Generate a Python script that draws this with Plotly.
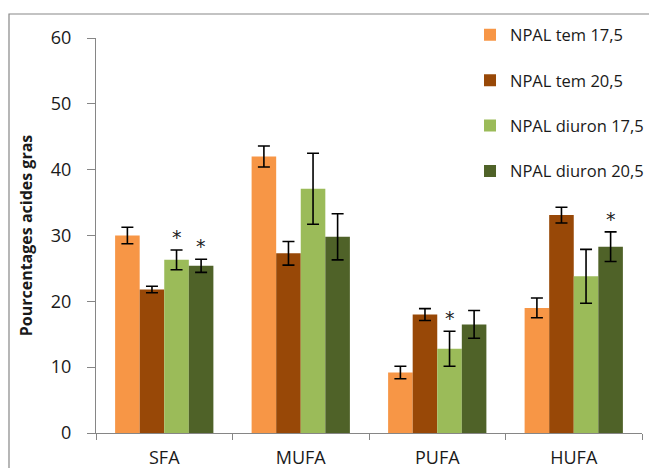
import plotly.graph_objects as go

categories = ["SFA", "MUFA", "PUFA", "HUFA"]
series_names = ["NPAL tem 17,5", "NPAL tem 20,5", "NPAL diuron 17,5", "NPAL diuron 20,5"]
tem_175 = [30.0, 42.0, 9.2, 19.0]
tem_205 = [21.8, 27.3, 18.0, 33.1]
diuron_175 = [26.3, 37.1, 12.8, 23.8]
diuron_205 = [25.4, 29.8, 16.5, 28.3]
err_tem_175 = [1.25, 1.6, 0.95, 1.5]
err_tem_205 = [0.5, 1.8, 0.9, 1.2]
err_diuron_175 = [1.5, 5.4, 2.65, 4.1]
err_diuron_205 = [1.0, 3.5, 2.1, 2.25]
# significance marks: (series index, category index)
stars = [(2, 0), (3, 0), (2, 2), (3, 3)]

values = [tem_175, tem_205, diuron_175, diuron_205]
errors = [err_tem_175, err_tem_205, err_diuron_175, err_diuron_205]
colors = ["#F79646", "#984807", "#9BBB59", "#4F6228"]

# the page body adds an 8px offset, so margins are set 8px smaller
W, H = 649, 460
ml, mr, mt, mb = 88, 15, 30, 35
bargap = 0.28
plot_w = W - ml - mr
plot_h = H - mt - mb

fig = go.Figure()
for i in range(4):
    fig.add_trace(go.Bar(
        x=categories, y=values[i], name=series_names[i],
        marker=dict(color=colors[i], line=dict(width=0)),
        legendgroup=f"g{i}",
        error_y=dict(type="data", array=errors[i], visible=True,
                     color="#000000", thickness=1.6, width=6),
    ))

bar_w = plot_w / len(categories) * (1 - bargap) / 4
for s, c in stars:
    fig.add_annotation(
        x=categories[c], y=values[s][c] + errors[s][c],
        text="*", showarrow=False, xref="x", yref="y",
        xshift=(s - 1.5) * bar_w, yanchor="bottom", yshift=0,
        font=dict(size=19, color="#222222", family="DejaVu Sans"),
    )

# outer frame
x0 = (1 - ml) / plot_w
y1 = (H - mb - 6) / plot_h
fig.add_shape(type="rect", xref="paper", yref="paper",
              x0=x0, x1=1.3, y0=-0.5, y1=y1,
              line=dict(color="#878787", width=1.2), fillcolor="rgba(0,0,0,0)")

fig.update_layout(
    width=W, height=H,
    margin=dict(l=ml, r=mr, t=mt, b=mb, autoexpand=False),
    barmode="group", bargap=bargap, bargroupgap=0,
    plot_bgcolor="white", paper_bgcolor="white",
    font=dict(family="Open Sans", color="#1a1a1a"),
    showlegend=True,
    legend=dict(x=0.685, y=1.052, xanchor="left", yanchor="top",
                traceorder="grouped", tracegroupgap=21,
                font=dict(size=16.5, color="#1a1a1a"),
                bgcolor="rgba(0,0,0,0)"),
    xaxis=dict(showline=True, linecolor="#868686", linewidth=1.2,
               ticks="outside", tickson="boundaries", ticklen=6,
               tickcolor="#868686", tickfont=dict(size=18),
               ticklabelstandoff=8, automargin=False),
    yaxis=dict(range=[0, 60], dtick=10, showgrid=False, zeroline=False,
               showline=True, linecolor="#868686", linewidth=1.2,
               ticks="outside", ticklen=8, tickcolor="#868686",
               tickfont=dict(size=18), ticklabelstandoff=12, automargin=False,
               title=dict(text="<b>Pourcentages acides gras</b>",
                          font=dict(size=16), standoff=14)),
)

fig.write_html("out.html")
